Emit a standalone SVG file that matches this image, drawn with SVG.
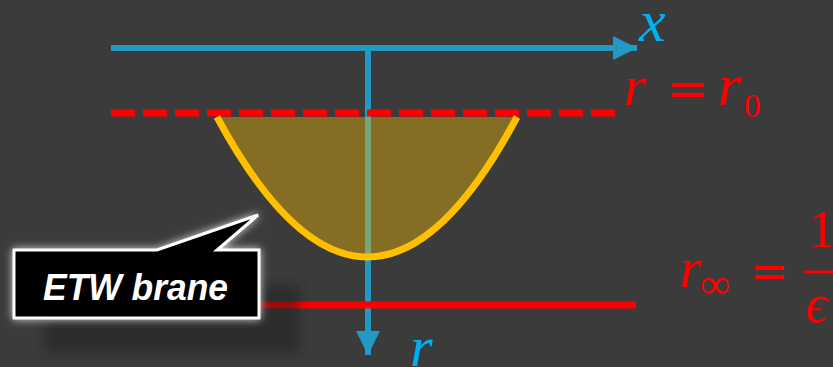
<svg xmlns="http://www.w3.org/2000/svg" width="833" height="367" viewBox="0 0 833 367">
<defs>
<style>
.axis{stroke:#239AC6;stroke-width:6;fill:none}
.red{stroke:#FF0000;stroke-width:7;fill:none}
.math{font-family:"Liberation Serif","DejaVu Serif",serif;font-style:italic;fill:#FF0000}
.up{font-family:"Liberation Serif","DejaVu Serif",serif;fill:#FF0000}
.eq{font-family:"DejaVu Sans",sans-serif;fill:#FF0000}
.lab{font-family:"Liberation Serif","DejaVu Serif",serif;font-style:italic;fill:#00B0F0}
</style>
<marker id="ah" viewBox="0 0 10 10" refX="10" refY="5" markerWidth="4" markerHeight="4" markerUnits="strokeWidth" orient="auto">
<path d="M0,0 L10,5 L0,10 Z" fill="#239AC6"/>
</marker>
<filter id="glow" x="-20%" y="-40%" width="140%" height="180%">
<feGaussianBlur in="SourceAlpha" stdDeviation="4" result="b"/>
<feFlood flood-color="#ffffff" flood-opacity="0.8"/>
<feComposite in2="b" operator="in" result="g"/>
<feMerge><feMergeNode in="g"/><feMergeNode in="SourceGraphic"/></feMerge>
</filter>
<filter id="shadow" x="-20%" y="-40%" width="140%" height="180%">
<feGaussianBlur stdDeviation="5"/>
</filter>
</defs>
<rect width="833" height="367" fill="#3B3B3B"/>
<g id="connectors">
<line class="axis" x1="111" y1="48" x2="637" y2="48" marker-end="url(#ah)"/>
<line class="axis" x1="368" y1="48" x2="368" y2="355" marker-end="url(#ah)"/>
<line class="red" x1="111" y1="113" x2="616" y2="113" stroke-dasharray="24 8"/>
<line class="red" x1="250" y1="305" x2="636" y2="305"/>
</g>
<g id="brane">
<path d="M217,117 Q368,397 517,117 Z" fill="#FFC000" fill-opacity="0.38" stroke="none"/>
<path d="M217,117 Q368,397 517,117" fill="none" stroke="#FFC000" stroke-width="7"/>
</g>
<g id="labels">
<text class="lab" x="639" y="41" font-size="60">x</text>
<text class="lab" x="410" y="366" font-size="58">r</text>
<text class="math" x="624" y="105" font-size="58">r</text>
<text class="eq" x="688" y="106" font-size="50" text-anchor="middle">=</text>
<text class="math" x="718" y="105" font-size="60">r</text>
<text class="up" x="744" y="117" font-size="33">0</text>
<text class="math" x="680" y="287" font-size="56">r</text>
<text class="up" x="700" y="298" font-size="42">∞</text>
<text class="eq" x="769" y="287" font-size="46" text-anchor="middle">=</text>
<text class="up" x="809" y="247" font-size="52">1</text>
<line x1="804" y1="272" x2="833" y2="272" stroke="#FF0000" stroke-width="3"/>
<text class="math" x="806" y="322" font-size="54">ϵ</text>
</g>
<g id="callout">
<rect x="45" y="285" width="255" height="68" fill="#1f1f1f" opacity="0.45" filter="url(#shadow)"/>
<path d="M14,250 L157,250 L258,215 L217,250 L259,250 L259,318 L14,318 Z" fill="#000000" stroke="#FFFFFF" stroke-width="3" stroke-linejoin="miter" filter="url(#glow)"/>
<text x="43" y="300" textLength="185" lengthAdjust="spacingAndGlyphs" font-family="'Liberation Sans','DejaVu Sans',sans-serif" font-weight="bold" font-style="italic" font-size="36" fill="#FFFFFF">ETW brane</text>
</g>
</svg>
